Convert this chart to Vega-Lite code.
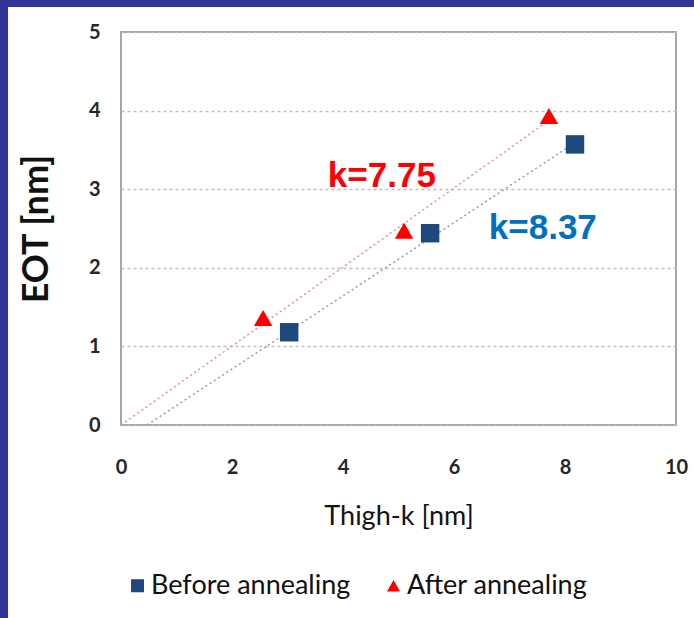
{
  "$schema": "https://vega.github.io/schema/vega-lite/v6.json",
  "width": 555,
  "height": 393,
  "autosize": {"type": "none"},
  "padding": {"left": 121, "top": 32, "right": 18, "bottom": 193},
  "background": "#ffffff",
  "config": {
    "view": {"stroke": "#a6a6a6", "strokeWidth": 2},
    "font": "Lato"
  },
  "datasets": {
    "points": [
      {"series": "Before annealing", "t": 3.03, "eot": 1.18},
      {"series": "Before annealing", "t": 5.57, "eot": 2.44},
      {"series": "Before annealing", "t": 8.18, "eot": 3.57},
      {"series": "After annealing", "t": 2.56, "eot": 1.36},
      {"series": "After annealing", "t": 5.1, "eot": 2.47},
      {"series": "After annealing", "t": 7.71, "eot": 3.93}
    ],
    "lines": [
      {"series": "After annealing", "t": 0, "eot": 0},
      {"series": "After annealing", "t": 7.7, "eot": 3.87},
      {"series": "Before annealing", "t": 0.47, "eot": 0},
      {"series": "Before annealing", "t": 8.2, "eot": 3.6}
    ],
    "labels": [
      {"t": 4.7, "eot": 3.17, "txt": "k=7.75", "series": "After annealing"},
      {"t": 7.6, "eot": 2.51, "txt": "k=8.37", "series": "Before annealing"}
    ],
    "frameV": [{"x": -2.108, "y1": -4, "y2": 8}],
    "frameH": [{"y": 5.363, "x1": -4, "x2": 12}]
  },
  "layer": [
    {
      "data": {"name": "lines"},
      "transform": [{"filter": "datum.series === 'After annealing'"}],
      "mark": {"type": "line", "color": "#f28c8c", "strokeWidth": 1.5, "strokeDash": [2, 3]},
      "encoding": {
        "x": {"field": "t", "type": "quantitative", "scale": {"domain": [0, 10]},
          "axis": {"values": [0, 2, 4, 6, 8, 10], "grid": false, "domain": false, "ticks": false, "format": "d", "labelFlush": false,
            "labelFontSize": 20, "labelFontWeight": "bold", "labelColor": "#262626", "labelPadding": 32,
            "title": "Thigh-k [nm]", "titleFontSize": 27, "titleFontWeight": "normal", "titleColor": "#111111", "titlePadding": 26}},
        "y": {"field": "eot", "type": "quantitative", "scale": {"domain": [0, 5]},
          "axis": {"values": [0, 1, 2, 3, 4, 5], "format": "d", "grid": true, "gridDash": [3, 3], "gridColor": "#bfbfbf", "gridWidth": 1.5,
            "domain": false, "ticks": false, "labelFlush": false,
            "labelFontSize": 20, "labelFontWeight": "bold", "labelColor": "#262626", "labelPadding": 21,
            "title": "EOT [nm]", "titleFontSize": 36, "titleFontWeight": "bold", "titleColor": "#111111", "titlePadding": 33}}
      }
    },
    {
      "data": {"name": "lines"},
      "transform": [{"filter": "datum.series === 'Before annealing'"}],
      "mark": {"type": "line", "color": "#8a9cc0", "strokeWidth": 1.5, "strokeDash": [2, 3]},
      "encoding": {
        "x": {"field": "t", "type": "quantitative"},
        "y": {"field": "eot", "type": "quantitative"}
      }
    },
    {
      "data": {"name": "points"},
      "mark": {"type": "point", "filled": true, "opacity": 1, "size": 340},
      "encoding": {
        "x": {"field": "t", "type": "quantitative"},
        "y": {"field": "eot", "type": "quantitative"},
        "color": {"field": "series", "type": "nominal",
          "scale": {"domain": ["Before annealing", "After annealing"], "range": ["#1f497d", "#ff0000"]},
          "legend": {"title": null, "orient": "none", "legendX": 3, "legendY": 540, "direction": "horizontal",
            "labelFontSize": 27, "labelColor": "#111111", "labelLimit": 400, "symbolSize": 170, "columnPadding": 29, "labelOffset": 0}},
        "shape": {"field": "series", "type": "nominal",
          "scale": {"domain": ["Before annealing", "After annealing"], "range": ["square", "triangle-up"]},
          "legend": {"title": null, "orient": "none", "legendX": 3, "legendY": 540, "direction": "horizontal",
            "labelFontSize": 27, "labelColor": "#111111", "labelLimit": 400, "symbolSize": 170, "columnPadding": 29, "labelOffset": 0}}
      }
    },
    {
      "data": {"name": "labels"},
      "transform": [{"filter": "datum.series === 'After annealing'"}],
      "mark": {"type": "text", "font": "Liberation Sans", "fontWeight": "bold", "fontSize": 35, "align": "center", "baseline": "middle", "color": "#ff0000"},
      "encoding": {
        "x": {"field": "t", "type": "quantitative"},
        "y": {"field": "eot", "type": "quantitative"},
        "text": {"field": "txt"}
      }
    },
    {
      "data": {"name": "labels"},
      "transform": [{"filter": "datum.series === 'Before annealing'"}],
      "mark": {"type": "text", "font": "Liberation Sans", "fontWeight": "bold", "fontSize": 35, "align": "center", "baseline": "middle", "color": "#0070c0"},
      "encoding": {
        "x": {"field": "t", "type": "quantitative"},
        "y": {"field": "eot", "type": "quantitative"},
        "text": {"field": "txt"}
      }
    },
    {
      "data": {"name": "frameV"},
      "mark": {"type": "rule", "color": "#333399", "strokeWidth": 8, "clip": false},
      "encoding": {
        "x": {"field": "x", "type": "quantitative"},
        "y": {"field": "y1", "type": "quantitative"},
        "y2": {"field": "y2"}
      }
    },
    {
      "data": {"name": "frameH"},
      "mark": {"type": "rule", "color": "#333399", "strokeWidth": 7, "clip": false},
      "encoding": {
        "y": {"field": "y", "type": "quantitative"},
        "x": {"field": "x1", "type": "quantitative"},
        "x2": {"field": "x2"}
      }
    }
  ]
}
